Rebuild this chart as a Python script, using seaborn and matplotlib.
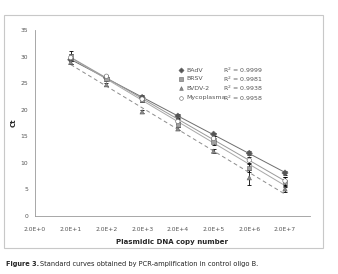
import numpy as np
import pandas as pd
import matplotlib.pyplot as plt
import seaborn as sns
from matplotlib.patches import Rectangle

# log10(copy number / 2), positions on the x axis
log_copies = [1, 2, 3, 4, 5, 6, 7]
tick_labels = ['2.0E+0', '2.0E+1', '2.0E+2', '2.0E+3', '2.0E+4', '2.0E+5', '2.0E+6', '2.0E+7']

badv = [29.4, 26.0, 22.3, 18.8, 15.4, 11.8, 8.1]
brsv = [30.0, 25.8, 21.9, 17.2, 14.0, 9.0, 6.4]
bvdv = [28.9, 24.7, 19.6, 16.4, 12.2, 7.2, 5.1]
myco = [29.8, 26.3, 22.0, 17.8, 14.6, 10.5, 6.6]

badv_err = [0.3, 0.3, 0.4, 0.3, 0.3, 0.4, 0.3]
brsv_err = [0.4, 0.4, 0.5, 0.4, 0.6, 0.7, 1.0]
bvdv_err = [0.3, 0.3, 0.3, 0.3, 0.4, 1.4, 0.5]
myco_err = [1.2, 0.3, 0.6, 0.4, 0.5, 0.6, 0.7]

names = ['BAdV', 'BRSV', 'BVDV-2', 'Mycoplasma']
r2 = ['0.9999', '0.9981', '0.9938', '0.9958']

series = {'BAdV': (badv, badv_err), 'BRSV': (brsv, brsv_err),
          'BVDV-2': (bvdv, bvdv_err), 'Mycoplasma': (myco, myco_err)}

rows = []
for n in names:
    for xv, yv in zip(log_copies, series[n][0]):
        rows.append({'x': xv, 'ct': yv, 'virus': n})
df = pd.DataFrame(rows)

sns.set_style('white')
plt.rcParams['font.family'] = ['DejaVu Sans']

fig = plt.figure(figsize=(3.38, 2.74), dpi=100)
fig.patches.append(Rectangle((4 / 338, 1 - 248 / 274), 319 / 338, 233 / 274,
                             transform=fig.transFigure, fill=False,
                             edgecolor='#c8c8c8', linewidth=0.8))
ax = fig.add_axes([35 / 338, 1 - 216 / 274, 275 / 338, 186 / 274])

line_style = {'BAdV': ('#6e6e6e', '-'), 'BRSV': ('#a8a8a8', '-'),
              'BVDV-2': ('#8c8c8c', (0, (4, 3))), 'Mycoplasma': ('#9a9a9a', '-')}
for n in names:
    sub = df[df.virus == n]
    c, ls = line_style[n]
    sns.regplot(data=sub, x='x', y='ct', scatter=False, ci=None, ax=ax,
                line_kws={'color': c, 'lw': 0.7, 'linestyle': ls})

for n in names:
    ax.errorbar(log_copies, series[n][0], yerr=series[n][1], fmt='none',
                ecolor='black', elinewidth=0.6, capsize=1.5, capthick=0.6, zorder=3)

markers = {'BAdV': 'D', 'BRSV': 's', 'BVDV-2': '^', 'Mycoplasma': 'o'}
palette = {'BAdV': '#555555', 'BRSV': '#a0a0a0', 'BVDV-2': '#8a8a8a', 'Mycoplasma': 'white'}
sns.scatterplot(data=df, x='x', y='ct', hue='virus', style='virus',
                markers=markers, palette=palette, s=10, edgecolor='#666666',
                linewidth=0.4, ax=ax, zorder=4, legend=False)

ax.set_xlim(0, 7.7)
ax.set_ylim(0, 35)
ax.set_xticks(range(8))
ax.set_xticklabels(tick_labels)
ax.set_yticks(range(0, 36, 5))
ax.tick_params(axis='both', labelsize=4.3, colors='#555555', length=2, width=0.5,
               direction='out', pad=3)
ax.tick_params(axis='x', pad=6)
for side in ['top', 'right']:
    ax.spines[side].set_visible(False)
for side in ['left', 'bottom']:
    ax.spines[side].set_color('#999999')
    ax.spines[side].set_linewidth(0.6)
ax.set_xlabel('Plasmidic DNA copy number', fontsize=5, fontweight='bold', labelpad=5)
ax.set_ylabel('Ct', fontsize=5, fontweight='bold', labelpad=3)

# legend-like block with R² values
leg_y = [70, 79, 88, 98]
for n, yy, r in zip(names, leg_y, r2):
    ax.scatter([181 / 338], [1 - yy / 274], transform=fig.transFigure, marker=markers[n],
               s=7, color=palette[n], edgecolor='#666666', linewidth=0.4, clip_on=False)
    fig.text(186 / 338, 1 - yy / 274, n, fontsize=4.5, color='#555555', va='center')
    fig.text(223 / 338, 1 - yy / 274, 'R$^2$ = ' + r, fontsize=4.5, color='#555555', va='center')

fig.text(6 / 338, 1 - 264 / 274, 'Figure 3.', fontsize=4.8, fontweight='bold', va='center')
fig.text(40 / 338, 1 - 264 / 274,
         'Standard curves obtained by PCR-amplification in control oligo B.',
         fontsize=4.8, va='center', color='#222222')

fig.savefig('out.png', dpi=100)
